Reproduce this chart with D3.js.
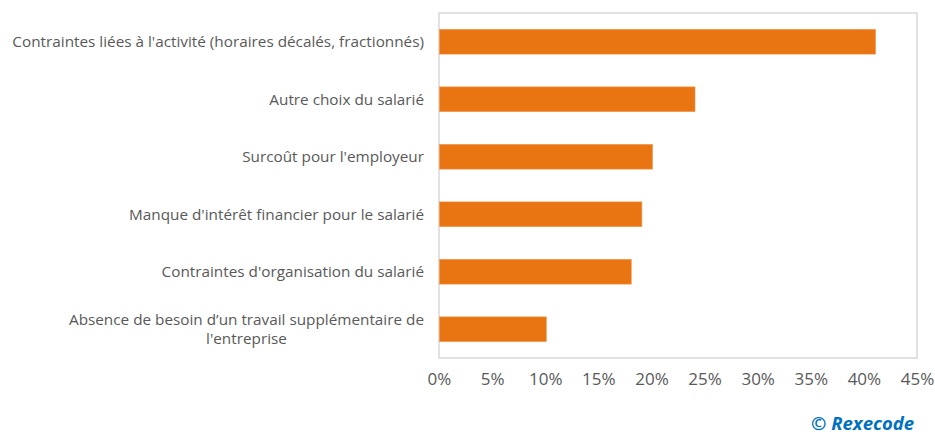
<!DOCTYPE html>
<html><head><meta charset="utf-8">
<script src="https://cdn.jsdelivr.net/npm/d3@7"></script>
<style>body{margin:0;background:#fff;}svg{display:block;font-family:"Open Sans",sans-serif;}</style>
</head><body><svg id="c" width="935" height="434"></svg>
<script>
const categories = [
  ["Contraintes liées à l'activité (horaires décalés, fractionnés)"],
  ["Autre choix du salarié"],
  ["Surcoût pour l'employeur"],
  ["Manque d'intérêt financier pour le salarié"],
  ["Contraintes d'organisation du salarié"],
  ["Absence de besoin d\u2019un travail supplémentaire de", "l'entreprise"]
];
const values = [41.1, 24.1, 20.1, 19.1, 18.1, 10.1];
const tickValues = [0,5,10,15,20,25,30,35,40,45];
const tickLabels = ["0%","5%","10%","15%","20%","25%","30%","35%","40%","45%"];

const svg = d3.select("#c");
const L = 439, R = 917, T = 13, B = 358;
const x = d3.scaleLinear().domain([0,45]).range([L,R]);
const y = d3.scaleBand().domain(d3.range(categories.length)).range([T,B]).paddingInner(0.57).paddingOuter(0.285);

svg.append("rect").attr("x",L).attr("y",T).attr("width",R-L).attr("height",B-T)
  .attr("fill","none").attr("stroke","#d9d9d9").attr("stroke-width",1.5);

svg.selectAll("rect.bar").data(values).enter().append("rect").attr("class","bar")
  .attr("x",x(0)+0.5).attr("y",(d,i)=>y(i)).attr("width",d=>x(d)-x(0)-0.5).attr("height",y.bandwidth())
  .attr("fill","#E97512").attr("stroke","#F0954A").attr("stroke-width",0.6);

const xAxis = d3.axisBottom(x).tickValues(tickValues).tickFormat((d,i)=>tickLabels[i]).tickSize(0).tickPadding(0);
const gx = svg.append("g").attr("transform",`translate(0,${B+15})`).call(xAxis);
gx.select(".domain").remove();
gx.selectAll("text").attr("font-size",17).attr("fill","#595959").attr("dy","0.71em").attr("font-family","'Open Sans',sans-serif");

const labG = svg.append("g");
categories.forEach((lines,i)=>{
  const cy = y(i)+y.bandwidth()/2;
  const lh = 18.5;
  const t = labG.append("text").attr("font-size",15.3).attr("fill","#595959").attr("text-anchor","middle");
  const spans = lines.map((ln,j)=> t.append("tspan").text(ln)
    .attr("y", cy + (j-(lines.length-1)/2)*lh).attr("dy","0.35em"));
  const maxW = d3.max(spans, s=>s.node().getComputedTextLength());
  spans.forEach(s=>s.attr("x",424-maxW/2));
});

svg.append("text").attr("x",914).attr("y",430).attr("text-anchor","end")
  .attr("font-size",18.5).attr("font-weight","bold").attr("font-style","italic")
  .attr("fill","#0070C0").text("© Rexecode");
</script></body></html>
